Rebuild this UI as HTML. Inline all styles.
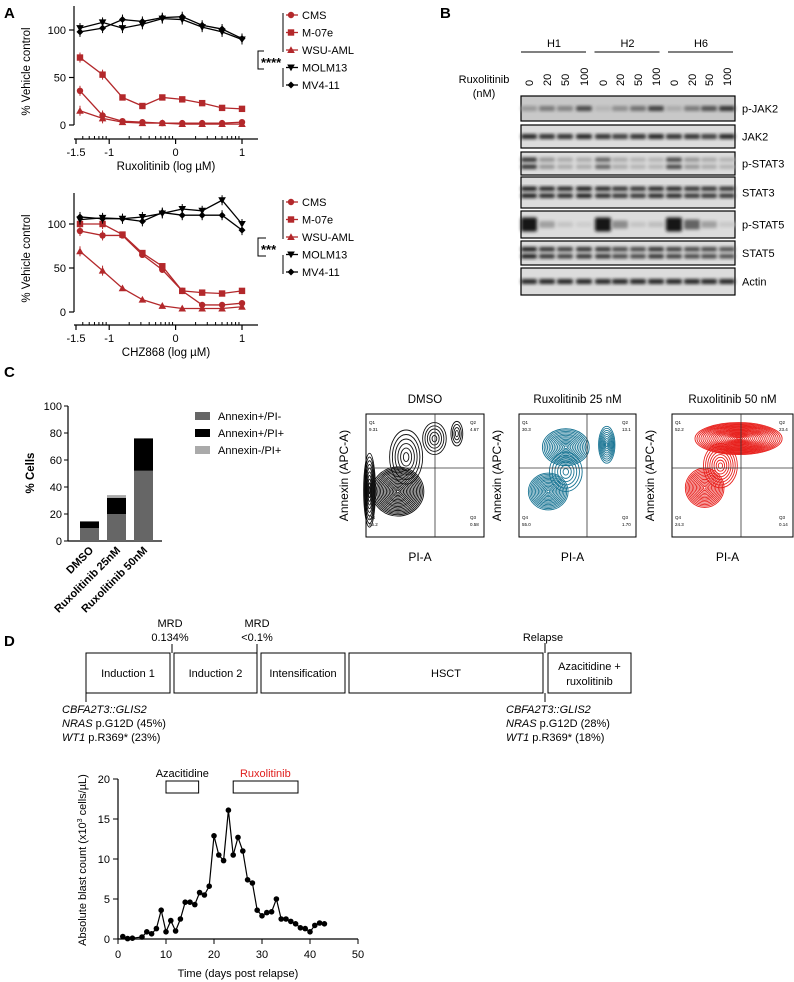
<!DOCTYPE html>
<html><head><meta charset="utf-8"><style>
body{margin:0;background:#fff}
svg{display:block;font-family:"Liberation Sans",Arial,sans-serif}
</style></head><body>
<svg id="fig" width="794" height="982" viewBox="0 0 794 982">
<defs><filter id="blur" x="-20%" y="-50%" width="140%" height="200%"><feGaussianBlur stdDeviation="1.6"/></filter></defs>
<g id="A"></g>
<g id="B"></g>
<g id="C"></g>
<g id="D"></g>
</svg>
<script>
// ---- Panel A data ----
const doseX=[-1.44,-1.1,-0.8,-0.5,-0.2,0.1,0.4,0.7,1.0];
const seriesNames=["CMS","M-07e","WSU-AML","MOLM13","MV4-11"];
const ruxCMS=[36,10,4,3,2,2,2,2,3];
const ruxM07e=[71,53,29,20,29,27,23,18,17];
const ruxWSU=[15,7,3,2,2,1,1,1,1];
const ruxMOLM13=[102,108,102,106,112,111,103,98,90];
const ruxMV411=[98,102,111,109,113,114,105,101,91];
const chzCMS=[92,87,87,65,48,24,8,8,10];
const chzM07e=[100,100,88,67,52,24,22,21,24];
const chzWSU=[69,47,27,14,7,4,4,4,6];
const chzMOLM13=[105,107,106,108,112,117,115,127,100];
const chzMV411=[108,106,106,103,113,110,110,110,93];
const yTicksA=[0,50,100];
const xTicksA=[-1.5,-1,0,1];
// ---- Panel C data ----
const barCats=["DMSO","Ruxolitinib 25nM","Ruxolitinib 50nM"];
const annexPosPiNeg=[9.5,20,52];
const annexPosPiPos=[5,12,24];
const annexNegPiPos=[0,2,0];
const yTicksC=[0,20,40,60,80,100];
// ---- Panel D data ----
const days=[1,2,3,5,6,7,8,9,10,11,12,13,14,15,16,17,18,19,20,21,22,23,24,25,26,27,28,29,30,31,32,33,34,35,36,37,38,39,40,41,42,43];
const blasts=[0.3,0.05,0.1,0.25,0.9,0.65,1.3,3.6,0.9,2.3,1.0,2.5,4.6,4.6,4.3,5.8,5.5,6.6,12.9,10.5,9.8,16.1,10.5,12.7,11.0,7.4,7.0,3.6,2.9,3.3,3.4,5.0,2.5,2.5,2.2,1.9,1.4,1.3,0.9,1.7,2.0,1.9];
const yTicksD=[0,5,10,15,20];
const xTicksD=[0,10,20,30,40,50];

const NS="http://www.w3.org/2000/svg";
function mk(tag,attrs,parent,txt){const e=document.createElementNS(NS,tag);for(const k in attrs)e.setAttribute(k,attrs[k]);if(txt!==undefined)e.textContent=txt;parent.appendChild(e);return e;}
const RED="#b3282b";
const A=document.getElementById('A'),B=document.getElementById('B'),C=document.getElementById('C'),D=document.getElementById('D');

[["A",4,18],["B",440,18],["C",4,377],["D",4,646]].forEach(l=>{const t=mk('text',{x:l[1],y:l[2],'font-size':15,'font-weight':'bold'},document.getElementById('fig'),l[0]);});

function marker(g,type,x,y,col){
  let e;
  if(type==0)e=mk('circle',{cx:x,cy:y,r:3.2,fill:col},g);
  else if(type==1)e=mk('rect',{x:x-3.2,y:y-3.2,width:6.4,height:6.4,fill:col},g);
  else if(type==2)e=mk('polygon',{points:`${x},${y-3.8} ${x+3.8},${y+3} ${x-3.8},${y+3}`,fill:col},g);
  else if(type==3)e=mk('polygon',{points:`${x},${y+3.8} ${x+3.8},${y-3} ${x-3.8},${y-3}`,fill:col},g);
  else e=mk('polygon',{points:`${x},${y-3.5} ${x+3.5},${y} ${x},${y+3.5} ${x-3.5},${y}`,fill:col},g);
  return e;
}
function doseChart(g,name,y0,pxPer,axTop,axisY,title,data,stars,legY){
  const gx=v=>76+(v+1.5)*66.4, gy=v=>y0-v*pxPer;
  const c=mk('g',{},g);
  mk('line',{x1:74,y1:axTop,x2:74,y2:y0,stroke:'#000','stroke-width':1.2},c);
  yTicksA.forEach(t=>{mk('line',{x1:69,y1:gy(t),x2:74,y2:gy(t),stroke:'#000','stroke-width':1.2},c);
    const tl=mk('text',{x:66,y:gy(t)+4,'font-size':11,'text-anchor':'end'},c,t);});
  const yt=mk('text',{x:0,y:0,'font-size':11.5,'text-anchor':'middle',transform:`translate(30,${(axTop+y0)/2+6}) rotate(-90)`},c,'% Vehicle control');
  
  mk('line',{x1:74,y1:axisY,x2:258,y2:axisY,stroke:'#000','stroke-width':1.2},c);
  xTicksA.forEach(t=>{mk('line',{x1:gx(t),y1:axisY,x2:gx(t),y2:axisY+5,stroke:'#000','stroke-width':1.2},c);
    const tl=mk('text',{x:gx(t),y:axisY+17,'font-size':11,'text-anchor':'middle'},c,t);});
  for(let d=-2;d<1;d++)for(let k=2;k<10;k++){const v=d+Math.log10(k);if(v>-1.5&&v<1)mk('line',{x1:gx(v),y1:axisY,x2:gx(v),y2:axisY-3,stroke:'#000','stroke-width':1},c);}
  const xt=mk('text',{x:166,y:axisY+31,'font-size':11.5,'text-anchor':'middle'},c,title);
  const cols=[RED,RED,RED,'#000','#000'];
  data.forEach((s,i)=>{
    const sg=mk('g',{},c);
    mk('polyline',{points:s.map((v,j)=>gx(doseX[j])+','+gy(v)).join(' '),fill:'none',stroke:cols[i],'stroke-width':1.3},sg);
    s.forEach((v,j)=>{if(i>=3||j<2){mk('line',{x1:gx(doseX[j]),y1:gy(v)-5,x2:gx(doseX[j]),y2:gy(v)+5,stroke:cols[i],'stroke-width':1},sg);}
      const m=marker(sg,i,gx(doseX[j]),gy(v),cols[i]);});
  });
  const lg=mk('g',{},c);
  seriesNames.forEach((n,i)=>{const y=legY+i*17.5;const e=mk('g',{},lg);
    mk('line',{x1:286,y1:y,x2:298,y2:y,stroke:cols[i],'stroke-width':1.3},e);marker(e,i,291,y,cols[i]);
    mk('text',{x:302,y:y+4,'font-size':11},e,n);});
  mk('line',{x1:283,y1:legY-2,x2:283,y2:legY+37,stroke:'#000','stroke-width':1},lg);
  mk('line',{x1:283,y1:legY+53,x2:283,y2:legY+72,stroke:'#000','stroke-width':1},lg);
  mk('polyline',{points:`${stars?264:266},${legY+36} 258,${legY+36} 258,${legY+54} ${stars?264:266},${legY+54}`,fill:'none',stroke:'#000','stroke-width':1},lg);
  const st=mk('text',{x:261,y:legY+52,'font-size':13,'font-weight':'bold'},lg,stars?'****':'***');
}
doseChart(A,'ruxolitinib-dose-chart',125,0.95,6,139,'Ruxolitinib (log µM)',[ruxCMS,ruxM07e,ruxWSU,ruxMOLM13,ruxMV411],true,15);
doseChart(A,'chz868-dose-chart',312,0.88,193,325,'CHZ868 (log µM)',[chzCMS,chzM07e,chzWSU,chzMOLM13,chzMV411],false,202);

// ---- Panel B: western blot ----
const groups=["H1","H2","H6"];
const doses=["0","20","50","100"];
const blotRows=["p-JAK2","JAK2","p-STAT3","STAT3","p-STAT5","STAT5","Actin"];
const rowTop=[96,125,152,177,211,241,268],rowBot=[121,148,175,208,238,265,295];
const intens=[[.35,.5,.45,.75,.2,.4,.55,.8,.25,.5,.7,.85],[.9,.85,.85,.9,.85,.8,.85,.9,.85,.85,.8,.9],[.85,.35,.25,.25,.6,.25,.2,.2,.75,.35,.25,.2],[.95,.9,.9,.95,.9,.85,.85,.9,.9,.85,.85,.85],[1,.3,.12,.08,1,.4,.12,.15,1,.6,.3,.1],[.95,.85,.8,.85,.85,.75,.75,.85,.8,.75,.75,.7],[.9,.9,.9,.9,.9,.9,.9,.9,.9,.9,.9,.9]];
const lanes=[529,547,565,584,603,620,638,656,674,692,709,727];
groups.forEach((g,i)=>{const x1=521+i*73.5;mk('line',{x1:x1,y1:52,x2:x1+65,y2:52,stroke:'#000','stroke-width':1},B);
  const t=mk('text',{x:x1+33,y:47,'font-size':11,'text-anchor':'middle'},B,g);});
mk('text',{x:484,y:83,'font-size':11,'text-anchor':'middle'},B,'Ruxolitinib');
mk('text',{x:484,y:97,'font-size':11,'text-anchor':'middle'},B,'(nM)');
lanes.forEach((x,i)=>{const t=mk('text',{x:0,y:0,'font-size':11,transform:`translate(${x+4},86) rotate(-90)`},B,doses[i%4]);});
blotRows.forEach((r,ri)=>{const y1=rowTop[ri],y2=rowBot[ri],g=mk('g',{},B);
  const bg=ri==0?'#c8c8c8':'#dcdcdc';
  mk('rect',{x:521,y:y1,width:214,height:y2-y1,fill:bg,stroke:'#000','stroke-width':1.2},g);
  const two=(ri==2||ri==3||ri==5);const cy=(y1+y2)/2;
  lanes.forEach((x,li)=>{const v=intens[ri][li];const c=Math.round(220-200*v);
    if(two){mk('rect',{x:x-8,y:cy-6,width:16,height:4.5,rx:2,fill:`rgb(${c},${c},${c})`,filter:'url(#blur)'},g);mk('rect',{x:x-8,y:cy+1,width:16,height:4.5,rx:2,fill:`rgb(${c},${c},${c})`,filter:'url(#blur)'},g);}
    else{const h=ri==4?4+v*10:5;mk('rect',{x:x-8,y:cy-h/2,width:16,height:h,rx:2,fill:`rgb(${c},${c},${c})`,filter:'url(#blur)'},g);}
  });
  const t=mk('text',{x:742,y:cy+4,'font-size':11},g,r);
});

// ---- Panel C: stacked bars ----
{const gy=v=>541-v*1.35;const g=mk('g',{},C);
 mk('line',{x1:68,y1:406,x2:68,y2:541,stroke:'#000','stroke-width':1.2},g);mk('line',{x1:68,y1:541,x2:162,y2:541,stroke:'#000','stroke-width':1.2},g);
 yTicksC.forEach(t=>{mk('line',{x1:64,y1:gy(t),x2:68,y2:gy(t),stroke:'#000'},g);const tl=mk('text',{x:62,y:gy(t)+4,'font-size':11,'text-anchor':'end'},g,t);});
 const yt=mk('text',{x:0,y:0,'font-size':11.5,'font-weight':'bold','text-anchor':'middle',transform:'translate(34,473) rotate(-90)'},g,'% Cells');
 const cols=['#666','#000','#aaa'];
 barCats.forEach((c,i)=>{const x=80+i*27;let base=0;[annexPosPiNeg,annexPosPiPos,annexNegPiPos].forEach((s,k)=>{const v=s[i];if(v>0){const r=mk('rect',{x:x,y:gy(base+v),width:19,height:v*1.35,fill:cols[k]},g);}base+=v;});
   const t=mk('text',{x:0,y:0,'font-size':11,'font-weight':'bold','text-anchor':'end',transform:`translate(${x+14},551) rotate(-45)`},g,c);});
 ["Annexin+/PI-","Annexin+/PI+","Annexin-/PI+"].forEach((n,k)=>{const e=mk('g',{},g);
   mk('rect',{x:195,y:412+k*17,width:15,height:8,fill:cols[k]},e);mk('text',{x:218,y:420+k*17,'font-size':11},e,n);});
}
// flow plots
const flowTitles=["DMSO","Ruxolitinib 25 nM","Ruxolitinib 50 nM"];
const flowQ=[["9.31","4.67","85.2","0.58"],["30.3","13.1","55.0","1.70"],["52.2","23.4","24.3","0.14"]];
const flowBlobs=[
 [[.27,.63,.22,.2,18],[.03,.62,.05,.3,10],[.34,.35,.14,.22,6],[.58,.2,.1,.13,5],[.77,.16,.05,.1,4]],
 [[.25,.63,.17,.15,14],[.4,.27,.2,.15,14],[.75,.25,.07,.15,9],[.4,.47,.14,.16,6]],
 [[.27,.6,.16,.16,14],[.55,.2,.36,.13,22],[.4,.42,.14,.18,8]]];
const flowCol=['#111','#1a7594','#e8221e'];
[[366,484,435],[519,636,587],[672,793,741]].forEach((p,i)=>{const g=mk('g',{},C);
  const x0=p[0],w=p[1]-p[0],y0=414,h=123;
  const t=mk('text',{x:(x0+p[1])/2,y:403,'font-size':11.5,'text-anchor':'middle'},g,flowTitles[i]);
  flowBlobs[i].forEach(b=>{for(let k=1;k<=b[4];k++){const f=k/b[4];mk('ellipse',{cx:x0+b[0]*w,cy:y0+b[1]*h,rx:b[2]*w*f,ry:b[3]*h*f,fill:'none',stroke:flowCol[i],'stroke-width':0.9},g);}});
  mk('rect',{x:x0,y:y0,width:w,height:h,fill:'none',stroke:'#000','stroke-width':1},g);
  mk('line',{x1:p[2],y1:y0,x2:p[2],y2:y0+h,stroke:'#333','stroke-width':0.8},g);
  mk('line',{x1:x0,y1:468,x2:p[1],y2:468,stroke:'#333','stroke-width':0.8},g);
  const q=flowQ[i];
  [["Q1",x0+3,y0+10,q[0]],["Q2",p[1]-14,y0+10,q[1]],["Q4",x0+3,y0+h-18,q[2]],["Q3",p[1]-14,y0+h-18,q[3]]].forEach(a=>{mk('text',{x:a[1],y:a[2],'font-size':4.5},g,a[0]);mk('text',{x:a[1],y:a[2]+7,'font-size':4.5},g,a[3]);});
  const ya=mk('text',{x:0,y:0,'font-size':12,'text-anchor':'middle',transform:`translate(${x0-18},${y0+h/2}) rotate(-90)`},g,'Annexin (APC-A)');
  const xa=mk('text',{x:x0+w*0.5-5,y:561,'font-size':12,'text-anchor':'middle'},g,'PI-A');
});

// ---- Panel D timeline ----
{const g=mk('g',{},D);
 const boxes=[[86,170,["Induction 1"]],[174,257,["Induction 2"]],[261,345,["Intensification"]],[349,543,["HSCT"]],[548,631,["Azacitidine +","ruxolitinib"]]];
 boxes.forEach(b=>{const e=mk('g',{},g);
   mk('rect',{x:b[0],y:653,width:b[1]-b[0],height:40,fill:'#fff',stroke:'#000','stroke-width':1},e);
   b[2].forEach((s,k)=>mk('text',{x:(b[0]+b[1])/2,y:(b[2].length==1?677:670)+k*15,'font-size':11,'text-anchor':'middle'},e,s));});
 [[172,644,653],[257,644,653],[545,643,653],[86,693,702],[545,693,702]].forEach(l=>mk('line',{x1:l[0],y1:l[1],x2:l[0],y2:l[2],stroke:'#000','stroke-width':1},g));
 mk('text',{x:170,y:627,'font-size':11,'text-anchor':'middle'},g,'MRD');mk('text',{x:170,y:641,'font-size':11,'text-anchor':'middle'},g,'0.134%');
 mk('text',{x:257,y:627,'font-size':11,'text-anchor':'middle'},g,'MRD');mk('text',{x:257,y:641,'font-size':11,'text-anchor':'middle'},g,'<0.1%');
 mk('text',{x:543,y:641,'font-size':11,'text-anchor':'middle'},g,'Relapse');
 [[62,"45%","23%"],[506,"28%","18%"]].forEach(a=>{const t=mk('g',{'font-size':11},g);
   mk('text',{x:a[0],y:713,'font-style':'italic'},t,'CBFA2T3::GLIS2');
   const t2=mk('text',{x:a[0],y:727},t);mk('tspan',{'font-style':'italic'},t2,'NRAS');mk('tspan',{},t2,' p.G12D ('+a[1]+')');
   const t3=mk('text',{x:a[0],y:741},t);mk('tspan',{'font-style':'italic'},t3,'WT1');mk('tspan',{},t3,' p.R369* ('+a[2]+')');});
}
// ---- Panel D blast chart ----
{const gx=v=>118+v*4.8, gy=v=>939-v*8;const g=mk('g',{},D);
 mk('line',{x1:118,y1:gy(20),x2:118,y2:939,stroke:'#000','stroke-width':1.2},g);mk('line',{x1:118,y1:939,x2:gx(50),y2:939,stroke:'#000','stroke-width':1.2},g);
 yTicksD.forEach(t=>{mk('line',{x1:113,y1:gy(t),x2:118,y2:gy(t),stroke:'#000'},g);const tl=mk('text',{x:110,y:gy(t)+4,'font-size':11,'text-anchor':'end'},g,t);});
 xTicksD.forEach(t=>{mk('line',{x1:gx(t),y1:939,x2:gx(t),y2:944,stroke:'#000'},g);const tl=mk('text',{x:gx(t),y:958,'font-size':11,'text-anchor':'middle'},g,t);});
 const xt=mk('text',{x:gx(25),y:977,'font-size':11,'text-anchor':'middle'},g,'Time (days post relapse)');
 const yt=mk('text',{x:0,y:0,'font-size':11,'text-anchor':'middle',transform:'translate(86,860) rotate(-90)'},g);
 mk('tspan',{},yt,'Absolute blast count (x10');mk('tspan',{'font-size':7,dy:-4},yt,'3');mk('tspan',{dy:4},yt,' cells/µL)');
 mk('rect',{x:gx(10),y:781,width:gx(16.8)-gx(10),height:12,fill:'none',stroke:'#000'},g);
 mk('text',{x:gx(13.4),y:777,'font-size':11,'text-anchor':'middle'},g,'Azacitidine');
 mk('rect',{x:gx(24),y:781,width:gx(37.5)-gx(24),height:12,fill:'none',stroke:'#000'},g);
 mk('text',{x:gx(30.7),y:777,'font-size':11,'text-anchor':'middle',fill:'#e0201e'},g,'Ruxolitinib');
 mk('polyline',{points:days.map((d,i)=>gx(d)+','+gy(blasts[i])).join(' '),fill:'none',stroke:'#000','stroke-width':1.2},g);
 days.forEach((d,i)=>{const c=mk('circle',{cx:gx(d),cy:gy(blasts[i]),r:2.8,fill:'#000'},g);});
}
</script>
</body></html>
